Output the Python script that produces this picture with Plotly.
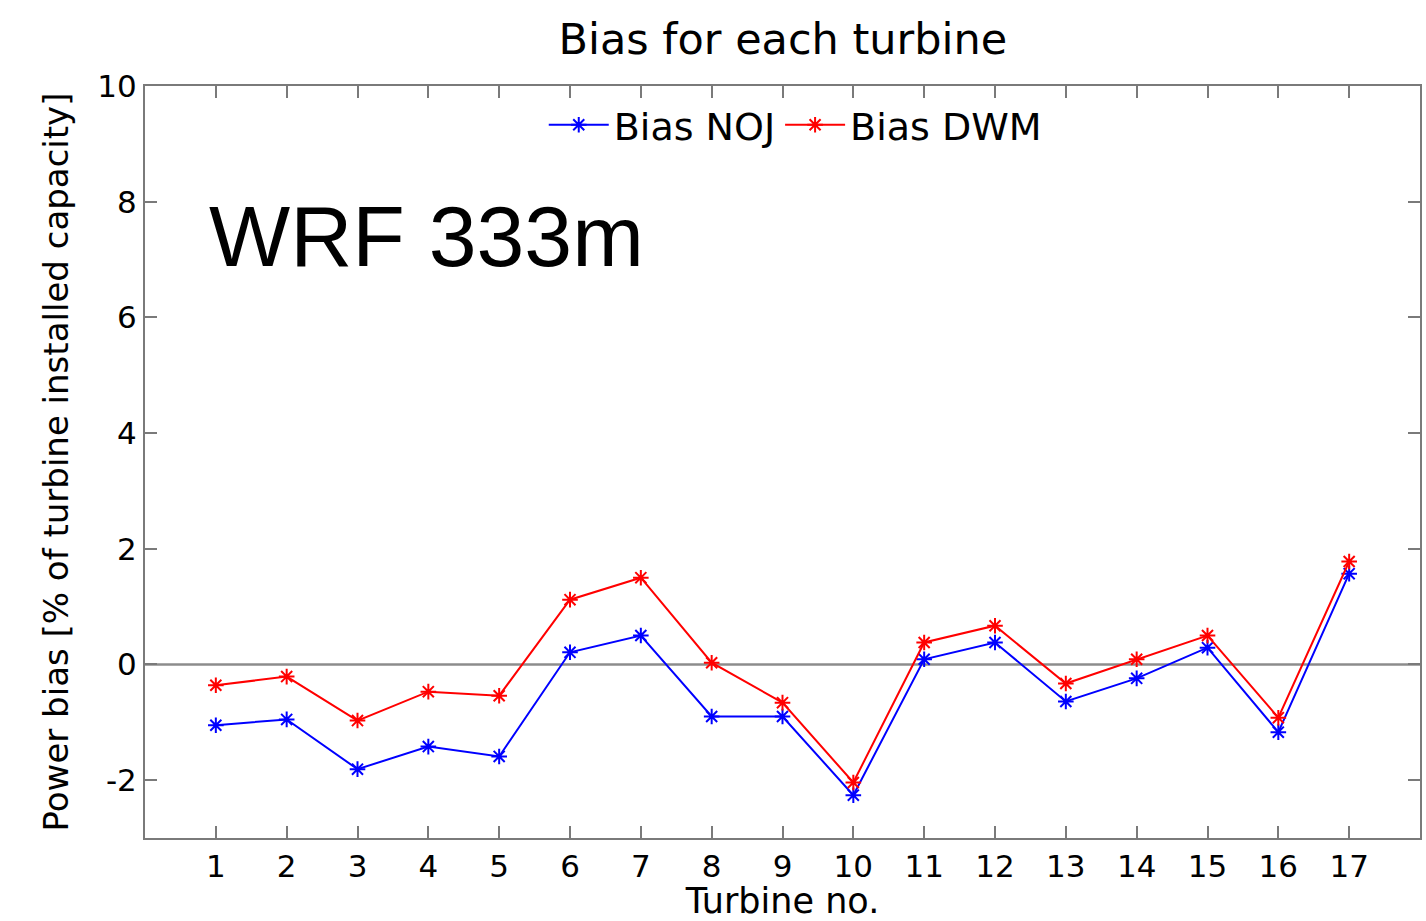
import plotly.graph_objects as go

turbines = list(range(1, 18))
bias_noj = [-1.05, -0.95, -1.81, -1.42, -1.59, 0.21, 0.50, -0.90, -0.90, -2.26,
            0.09, 0.38, -0.64, -0.24, 0.29, -1.17, 1.57]
bias_dwm = [-0.36, -0.21, -0.97, -0.47, -0.54, 1.12, 1.50, 0.03, -0.66, -2.04,
            0.38, 0.67, -0.33, 0.09, 0.50, -0.92, 1.78]
y_ticks = [-2, 0, 2, 4, 6, 8, 10]
y_tick_text = ["-2", "0", "2", "4", "6", "8", "10"]

font_main = "DejaVu Sans"

fig = go.Figure()
fig.add_trace(go.Scatter(
    x=turbines, y=bias_noj, mode="lines+markers", name="Bias NOJ",
    line=dict(color="#0000ff", width=2),
    marker=dict(symbol="asterisk-open", size=13, color="#0000ff",
                line=dict(color="#0000ff", width=2)),
))
fig.add_trace(go.Scatter(
    x=turbines, y=bias_dwm, mode="lines+markers", name="Bias DWM",
    line=dict(color="#ff0000", width=2),
    marker=dict(symbol="asterisk-open", size=13, color="#ff0000",
                line=dict(color="#ff0000", width=2)),
))

fig.add_hline(y=0, line=dict(color="#8c8c8c", width=2.5), layer="below")

fig.add_annotation(
    x=0.049, y=0.80, xref="paper", yref="paper", xanchor="left", yanchor="middle",
    text="WRF 333m", showarrow=False,
    font=dict(family="Liberation Sans, Arial", size=86, color="black"),
)

axis_common = dict(
    showline=True, linecolor="#7a7a7a", linewidth=2, mirror="ticks",
    ticks="inside", ticklen=12, tickwidth=1.5, tickcolor="#7a7a7a",
    showgrid=False, zeroline=False,
    tickfont=dict(family=font_main, size=31, color="black"),
)

fig.update_layout(
    width=1426, height=921,
    margin=dict(l=145, r=4, t=86, b=83),
    paper_bgcolor="white", plot_bgcolor="white",
    title=dict(text="Bias for each turbine", x=0.549, xanchor="center",
               y=0.958, yanchor="middle",
               font=dict(family=font_main, size=43, color="black")),
    xaxis=dict(range=[0, 18], tickvals=turbines, **axis_common,
               title=dict(text="Turbine no.", standoff=6,
                          font=dict(family=font_main, size=35, color="black"))),
    yaxis=dict(range=[-3, 10], tickvals=y_ticks, ticktext=y_tick_text, **axis_common,
               title=dict(text="Power bias [% of turbine installed capacity]", standoff=18,
                          font=dict(family=font_main, size=34, color="black"))),
    legend=dict(orientation="h", x=0.51, xanchor="center", y=0.99, yanchor="top",
                font=dict(family=font_main, size=38, color="black"),
                bgcolor="rgba(0,0,0,0)", itemwidth=60, tracegroupgap=0),
    showlegend=True,
)

fig.write_html("out.html")
